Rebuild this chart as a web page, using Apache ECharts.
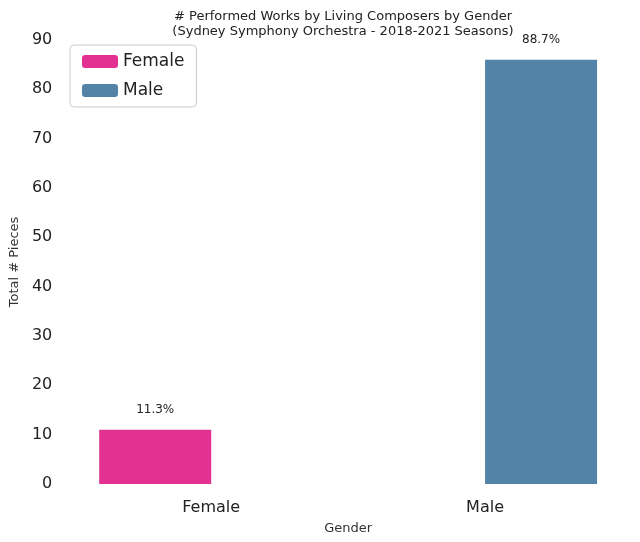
<!DOCTYPE html>
<html><head><meta charset="utf-8">
<script src="https://cdn.jsdelivr.net/npm/echarts@6/dist/echarts.min.js"></script>
<style>html,body{margin:0;background:#fff}#c{width:640px;height:542px}</style>
</head><body><div id="c"></div>
<script>
var categories = ['Female', 'Male'];
var femaleCounts = [11, null];
var maleCounts = [null, 86];
var pctLabels = ['11.3%', '88.7%'];

var chart = echarts.init(document.getElementById('c'));
function lbl(i) {
    return {show: true, position: 'top', distance: 14, fontSize: 12, color: '#222',
        fontFamily: 'DejaVu Sans', formatter: function () { return pctLabels[i]; }};
}
chart.setOption({
    animation: false,
    textStyle: {fontFamily: 'DejaVu Sans'},
    title: {
        text: '# Performed Works by Living Composers by Gender\n(Sydney Symphony Orchestra - 2018-2021 Seasons)',
        left: 338, top: 4, textAlign: 'center',
        textStyle: {fontSize: 13, fontWeight: 'normal', color: '#222', lineHeight: 15}
    },
    legend: {
        left: 70, top: 45, orient: 'vertical', itemWidth: 36, itemHeight: 13, itemGap: 12,
        padding: [8, 12], borderColor: '#ccc', borderWidth: 1, borderRadius: 4,
        textStyle: {fontSize: 17, color: '#222'}
    },
    grid: {left: 62, right: 18, top: 40, bottom: 58},
    xAxis: {
        type: 'category', data: categories, name: 'Gender', nameLocation: 'middle', nameGap: 38,
        nameTextStyle: {fontSize: 13, color: '#333'},
        axisLine: {show: false}, axisTick: {show: false},
        axisLabel: {fontSize: 16, color: '#222', margin: 16}
    },
    yAxis: {
        type: 'value', min: 0, max: 90, interval: 10, name: 'Total # Pieces',
        nameLocation: 'middle', nameGap: 46, nameTextStyle: {fontSize: 13, color: '#333'},
        splitLine: {show: false}, axisLine: {show: false}, axisTick: {show: false},
        axisLabel: {fontSize: 16, color: '#222', margin: 22}
    },
    series: [
        {name: 'Female', type: 'bar', data: femaleCounts, barWidth: 112, barGap: '0%',
            itemStyle: {color: '#e23190'}, label: lbl(0)},
        {name: 'Male', type: 'bar', data: maleCounts, barWidth: 112,
            itemStyle: {color: '#5483a8'}, label: lbl(1)}
    ]
});
</script></body></html>
